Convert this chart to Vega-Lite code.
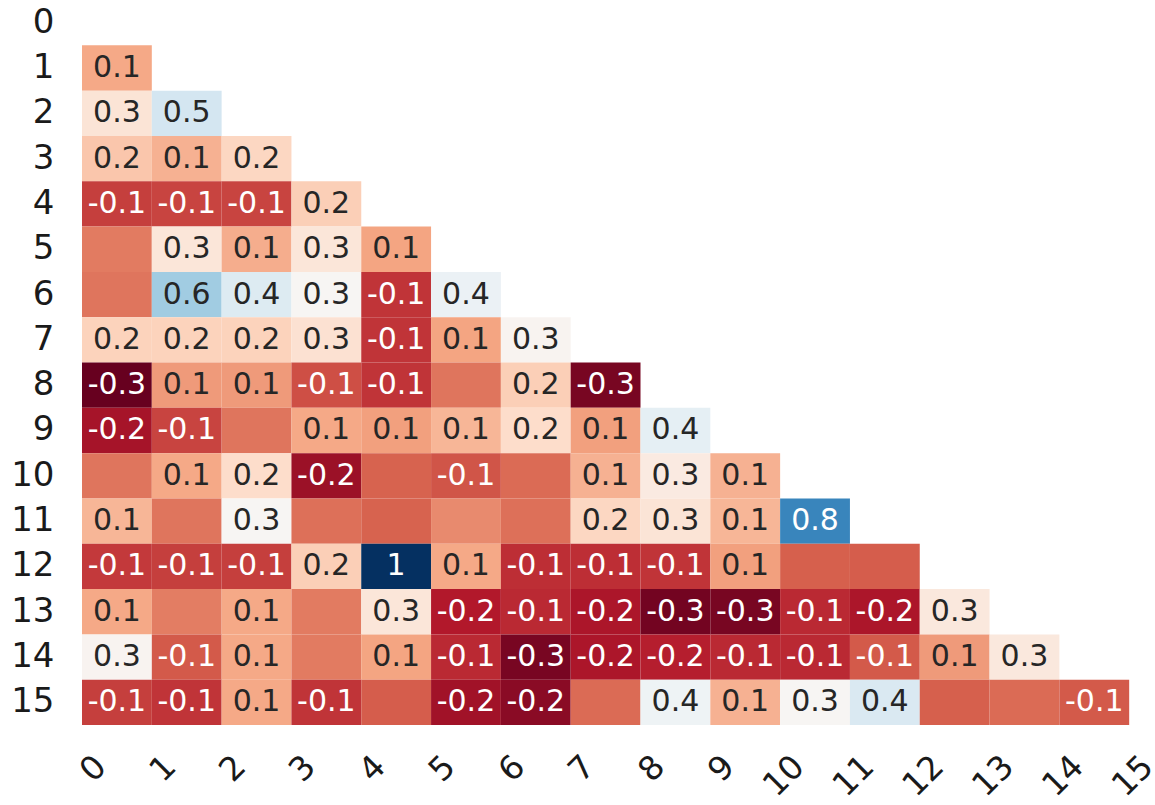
{
  "$schema": "https://vega.github.io/schema/vega-lite/v6.json",
  "autosize": {"type": "none"},
  "padding": {"left": 82, "top": 0, "right": 0, "bottom": 80},
  "width": 1073,
  "height": 725,
  "background": "white",
  "config": {"view": {"stroke": null}},
  "data": {"values": [
    {"row":1,"col":0,"v":0.1,"label":"0.1"},
    {"row":2,"col":0,"v":0.26,"label":"0.3"},
    {"row":2,"col":1,"v":0.47,"label":"0.5"},
    {"row":3,"col":0,"v":0.17,"label":"0.2"},
    {"row":3,"col":1,"v":0.12,"label":"0.1"},
    {"row":3,"col":2,"v":0.21,"label":"0.2"},
    {"row":4,"col":0,"v":-0.1,"label":"-0.1"},
    {"row":4,"col":1,"v":-0.09,"label":"-0.1"},
    {"row":4,"col":2,"v":-0.09,"label":"-0.1"},
    {"row":4,"col":3,"v":0.19,"label":"0.2"},
    {"row":5,"col":0,"v":0.01,"label":""},
    {"row":5,"col":1,"v":0.27,"label":"0.3"},
    {"row":5,"col":2,"v":0.11,"label":"0.1"},
    {"row":5,"col":3,"v":0.27,"label":"0.3"},
    {"row":5,"col":4,"v":0.09,"label":"0.1"},
    {"row":6,"col":0,"v":0.0,"label":""},
    {"row":6,"col":1,"v":0.58,"label":"0.6"},
    {"row":6,"col":2,"v":0.44,"label":"0.4"},
    {"row":6,"col":3,"v":0.34,"label":"0.3"},
    {"row":6,"col":4,"v":-0.12,"label":"-0.1"},
    {"row":6,"col":5,"v":0.39,"label":"0.4"},
    {"row":7,"col":0,"v":0.2,"label":"0.2"},
    {"row":7,"col":1,"v":0.2,"label":"0.2"},
    {"row":7,"col":2,"v":0.2,"label":"0.2"},
    {"row":7,"col":3,"v":0.25,"label":"0.3"},
    {"row":7,"col":4,"v":-0.12,"label":"-0.1"},
    {"row":7,"col":5,"v":0.09,"label":"0.1"},
    {"row":7,"col":6,"v":0.33,"label":"0.3"},
    {"row":8,"col":0,"v":-0.3,"label":"-0.3"},
    {"row":8,"col":1,"v":0.07,"label":"0.1"},
    {"row":8,"col":2,"v":0.07,"label":"0.1"},
    {"row":8,"col":3,"v":-0.07,"label":"-0.1"},
    {"row":8,"col":4,"v":-0.12,"label":"-0.1"},
    {"row":8,"col":5,"v":0.0,"label":""},
    {"row":8,"col":6,"v":0.19,"label":"0.2"},
    {"row":8,"col":7,"v":-0.27,"label":"-0.3"},
    {"row":9,"col":0,"v":-0.19,"label":"-0.2"},
    {"row":9,"col":1,"v":-0.09,"label":"-0.1"},
    {"row":9,"col":2,"v":0.0,"label":""},
    {"row":9,"col":3,"v":0.1,"label":"0.1"},
    {"row":9,"col":4,"v":0.08,"label":"0.1"},
    {"row":9,"col":5,"v":0.13,"label":"0.1"},
    {"row":9,"col":6,"v":0.23,"label":"0.2"},
    {"row":9,"col":7,"v":0.08,"label":"0.1"},
    {"row":9,"col":8,"v":0.41,"label":"0.4"},
    {"row":10,"col":0,"v":0.0,"label":""},
    {"row":10,"col":1,"v":0.1,"label":"0.1"},
    {"row":10,"col":2,"v":0.23,"label":"0.2"},
    {"row":10,"col":3,"v":-0.21,"label":"-0.2"},
    {"row":10,"col":4,"v":-0.035,"label":""},
    {"row":10,"col":5,"v":-0.06,"label":"-0.1"},
    {"row":10,"col":6,"v":-0.02,"label":""},
    {"row":10,"col":7,"v":0.12,"label":"0.1"},
    {"row":10,"col":8,"v":0.29,"label":"0.3"},
    {"row":10,"col":9,"v":0.12,"label":"0.1"},
    {"row":11,"col":0,"v":0.13,"label":"0.1"},
    {"row":11,"col":1,"v":0.0,"label":""},
    {"row":11,"col":2,"v":0.34,"label":"0.3"},
    {"row":11,"col":3,"v":-0.01,"label":""},
    {"row":11,"col":4,"v":-0.035,"label":""},
    {"row":11,"col":5,"v":0.04,"label":""},
    {"row":11,"col":6,"v":-0.01,"label":""},
    {"row":11,"col":7,"v":0.21,"label":"0.2"},
    {"row":11,"col":8,"v":0.26,"label":"0.3"},
    {"row":11,"col":9,"v":0.13,"label":"0.1"},
    {"row":11,"col":10,"v":0.78,"label":"0.8"},
    {"row":12,"col":0,"v":-0.11,"label":"-0.1"},
    {"row":12,"col":1,"v":-0.1,"label":"-0.1"},
    {"row":12,"col":2,"v":-0.1,"label":"-0.1"},
    {"row":12,"col":3,"v":0.19,"label":"0.2"},
    {"row":12,"col":4,"v":1.0,"label":"1"},
    {"row":12,"col":5,"v":0.1,"label":"0.1"},
    {"row":12,"col":6,"v":-0.13,"label":"-0.1"},
    {"row":12,"col":7,"v":-0.13,"label":"-0.1"},
    {"row":12,"col":8,"v":-0.12,"label":"-0.1"},
    {"row":12,"col":9,"v":0.08,"label":"0.1"},
    {"row":12,"col":10,"v":-0.04,"label":""},
    {"row":12,"col":11,"v":-0.045,"label":""},
    {"row":13,"col":0,"v":0.1,"label":"0.1"},
    {"row":13,"col":1,"v":0.015,"label":""},
    {"row":13,"col":2,"v":0.1,"label":"0.1"},
    {"row":13,"col":3,"v":0.01,"label":""},
    {"row":13,"col":4,"v":0.27,"label":"0.3"},
    {"row":13,"col":5,"v":-0.17,"label":"-0.2"},
    {"row":13,"col":6,"v":-0.14,"label":"-0.1"},
    {"row":13,"col":7,"v":-0.18,"label":"-0.2"},
    {"row":13,"col":8,"v":-0.28,"label":"-0.3"},
    {"row":13,"col":9,"v":-0.27,"label":"-0.3"},
    {"row":13,"col":10,"v":-0.14,"label":"-0.1"},
    {"row":13,"col":11,"v":-0.18,"label":"-0.2"},
    {"row":13,"col":12,"v":0.28,"label":"0.3"},
    {"row":14,"col":0,"v":0.33,"label":"0.3"},
    {"row":14,"col":1,"v":-0.05,"label":"-0.1"},
    {"row":14,"col":2,"v":0.1,"label":"0.1"},
    {"row":14,"col":3,"v":0.01,"label":""},
    {"row":14,"col":4,"v":0.09,"label":"0.1"},
    {"row":14,"col":5,"v":-0.14,"label":"-0.1"},
    {"row":14,"col":6,"v":-0.27,"label":"-0.3"},
    {"row":14,"col":7,"v":-0.18,"label":"-0.2"},
    {"row":14,"col":8,"v":-0.16,"label":"-0.2"},
    {"row":14,"col":9,"v":-0.14,"label":"-0.1"},
    {"row":14,"col":10,"v":-0.14,"label":"-0.1"},
    {"row":14,"col":11,"v":-0.05,"label":"-0.1"},
    {"row":14,"col":12,"v":0.07,"label":"0.1"},
    {"row":14,"col":13,"v":0.28,"label":"0.3"},
    {"row":15,"col":0,"v":-0.1,"label":"-0.1"},
    {"row":15,"col":1,"v":-0.12,"label":"-0.1"},
    {"row":15,"col":2,"v":0.1,"label":"0.1"},
    {"row":15,"col":3,"v":-0.12,"label":"-0.1"},
    {"row":15,"col":4,"v":-0.045,"label":""},
    {"row":15,"col":5,"v":-0.2,"label":"-0.2"},
    {"row":15,"col":6,"v":-0.24,"label":"-0.2"},
    {"row":15,"col":7,"v":-0.02,"label":""},
    {"row":15,"col":8,"v":0.38,"label":"0.4"},
    {"row":15,"col":9,"v":0.12,"label":"0.1"},
    {"row":15,"col":10,"v":0.34,"label":"0.3"},
    {"row":15,"col":11,"v":0.45,"label":"0.4"},
    {"row":15,"col":12,"v":-0.04,"label":""},
    {"row":15,"col":13,"v":-0.02,"label":""},
    {"row":15,"col":14,"v":-0.05,"label":"-0.1"}
  ]},
  "encoding": {
    "x": {
      "field": "col", "type": "ordinal",
      "scale": {"domain": [0,1,2,3,4,5,6,7,8,9,10,11,12,13,14,15], "range": [0, 1117], "padding": 0},
      "axis": {
        "title": null, "domain": false, "ticks": false,
        "labelAngle": -45, "labelAlign": "right", "labelBaseline": "middle",
        "labelPadding": 36, "labelOffset": -16,
        "labelFont": "DejaVu Sans", "labelFontSize": 33, "labelColor": "#1a1a1a"
      }
    },
    "y": {
      "field": "row", "type": "ordinal",
      "scale": {"domain": [0,1,2,3,4,5,6,7,8,9,10,11,12,13,14,15], "padding": 0},
      "axis": {
        "title": null, "domain": false, "ticks": false,
        "labelPadding": 28,
        "labelFont": "DejaVu Sans", "labelFontSize": 34, "labelColor": "#1a1a1a"
      }
    }
  },
  "layer": [
    {
      "mark": {"type": "rect"},
      "encoding": {
        "color": {
          "field": "v", "type": "quantitative",
          "scale": {
            "type": "linear",
            "domain": [-0.3, -0.17, -0.04, 0.09, 0.22, 0.35, 0.48, 0.61, 0.74, 0.87, 1.0],
            "range": ["#67001f", "#b2182b", "#d6604d", "#f4a582", "#fddbc7", "#f7f7f7", "#d1e5f0", "#92c5de", "#4393c3", "#2166ac", "#053061"],
            "interpolate": "rgb"
          },
          "legend": null
        }
      }
    },
    {
      "mark": {"type": "text", "font": "DejaVu Sans", "fontSize": 30, "baseline": "middle", "align": "center"},
      "encoding": {
        "text": {"field": "label"},
        "color": {
          "condition": {"test": "datum.v < 0 || datum.v > 0.7", "value": "#ffffff"},
          "value": "#262626"
        }
      }
    }
  ]
}
